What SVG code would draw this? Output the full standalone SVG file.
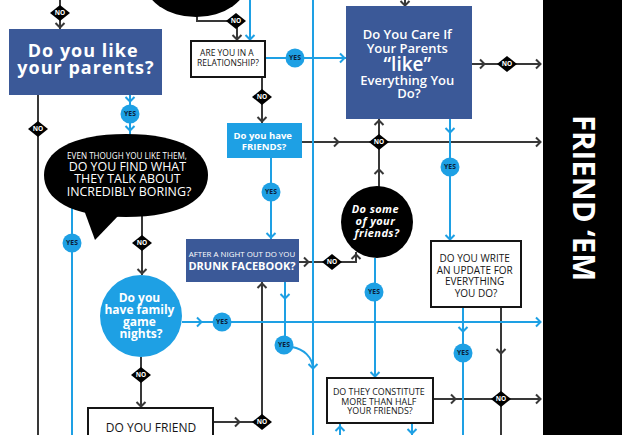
<svg xmlns="http://www.w3.org/2000/svg" width="622" height="435" viewBox="0 0 622 435">
<style>
.g{fill:none;stroke:#383838;stroke-width:2}
.b{fill:none;stroke:#1ea0e4;stroke-width:2}
.no polygon{fill:#000}
.no text{font-family:"Open Sans","DejaVu Sans",sans-serif;font-weight:700;font-size:6.5px;fill:#fff;text-anchor:middle}
.yes circle{fill:#1ea0e4}
.yes text{font-family:"Open Sans","DejaVu Sans",sans-serif;font-weight:700;font-size:6.8px;fill:#0b1f3a;text-anchor:middle}
.t{font-family:"Open Sans","DejaVu Sans",sans-serif;text-anchor:middle}
.w{fill:#fff}
.k{fill:#151515}
.fb{fill:#3b5998}
.lb{fill:#1ea0e4}
.box{fill:#fff;stroke:#151515;stroke-width:2}
</style>
<defs>
<path id="cr" d="M-4,-4.5 L0.5,0 L-4,4.5"/>
<path id="cd" d="M-4.5,-4 L0,0.5 L4.5,-4"/>
<path id="cu" d="M-4.5,4 L0,-0.5 L4.5,4"/>
</defs>
<rect width="622" height="435" fill="#fff"/>

<g id="connectors">
<!-- gray connectors -->
<path class="g" d="M60,0V29"/>
<use href="#cd" class="g" x="60" y="27"/>
<path class="g" d="M38,95V435"/>
<path class="g" d="M197,10V21H237V41"/>
<use href="#cd" class="g" x="237" y="39"/>
<path class="g" d="M262,77V123"/>
<use href="#cd" class="g" x="262" y="121"/>
<path class="g" d="M302,142H540"/>
<use href="#cr" class="g" x="338" y="142"/>
<use href="#cr" class="g" x="540" y="142"/>
<path class="g" d="M379,188V119"/>
<use href="#cu" class="g" x="379" y="170"/>
<use href="#cu" class="g" x="379" y="121"/>
<path class="g" d="M405,0V6"/>
<use href="#cd" class="g" x="405" y="5"/>
<path class="g" d="M472,64H540"/>
<use href="#cr" class="g" x="484" y="64"/>
<use href="#cr" class="g" x="540" y="64"/>
<path class="g" d="M142,215V275"/>
<use href="#cd" class="g" x="142" y="273"/>
<path class="g" d="M141,357V408"/>
<use href="#cd" class="g" x="141" y="406"/>
<path class="g" d="M213,422H262V282"/>
<use href="#cr" class="g" x="239" y="422"/>
<use href="#cu" class="g" x="262" y="284"/>
<path class="g" d="M299,262H356V252"/>
<use href="#cr" class="g" x="308" y="262"/>
<use href="#cu" class="g" x="356" y="255"/>
<path class="g" d="M501,307V435"/>
<use href="#cd" class="g" x="501" y="353"/>
<path class="g" d="M433,399H540"/>
<use href="#cr" class="g" x="455" y="399"/>
<use href="#cr" class="g" x="540" y="399"/>

<!-- blue connectors -->
<path class="b" d="M130,95V136"/>
<use href="#cd" class="b" x="130" y="101"/>
<use href="#cd" class="b" x="130" y="130"/>
<path class="b" d="M72,205V435"/>
<path class="b" d="M182,322H540"/>
<use href="#cr" class="b" x="201" y="322"/>
<use href="#cr" class="b" x="540" y="322"/>
<path class="b" d="M250,0V41"/>
<use href="#cd" class="b" x="250" y="39"/>
<path class="b" d="M265,58H346"/>
<use href="#cr" class="b" x="344" y="58"/>
<path class="b" d="M313,0V435"/>
<path class="b" d="M271,158V239"/>
<use href="#cd" class="b" x="271" y="237"/>
<path class="b" d="M285,282V345"/>
<use href="#cd" class="b" x="285" y="298"/>
<path class="b" d="M292,347C304,349 312,357 313,368"/>
<use href="#cd" class="b" x="313" y="368"/>
<path class="b" d="M450,119V241"/>
<use href="#cd" class="b" x="450" y="132"/>
<use href="#cd" class="b" x="450" y="239"/>
<path class="b" d="M375,258V378"/>
<use href="#cd" class="b" x="375" y="376"/>
<path class="b" d="M463,307V435"/>
<use href="#cd" class="b" x="463" y="331"/>
<path class="b" d="M340,423V435"/>
<use href="#cu" class="b" x="340" y="427"/>
<path class="b" d="M412,423V435"/>
<use href="#cd" class="b" x="412" y="433"/>

<!-- NO labels -->
<g class="no" transform="translate(60,13)"><polygon points="0,-8 10,0 0,8 -10,0"/><text y="2.3">NO</text></g>
<g class="no" transform="translate(38,129)"><polygon points="0,-8 10,0 0,8 -10,0"/><text y="2.3">NO</text></g>
<g class="no" transform="translate(236,21)"><polygon points="0,-8 10,0 0,8 -10,0"/><text y="2.3">NO</text></g>
<g class="no" transform="translate(262,97)"><polygon points="0,-8 10,0 0,8 -10,0"/><text y="2.3">NO</text></g>
<g class="no" transform="translate(379,142)"><polygon points="0,-8 10,0 0,8 -10,0"/><text y="2.3">NO</text></g>
<g class="no" transform="translate(507,64)"><polygon points="0,-8 10,0 0,8 -10,0"/><text y="2.3">NO</text></g>
<g class="no" transform="translate(142,243)"><polygon points="0,-8 10,0 0,8 -10,0"/><text y="2.3">NO</text></g>
<g class="no" transform="translate(141,375)"><polygon points="0,-8 10,0 0,8 -10,0"/><text y="2.3">NO</text></g>
<g class="no" transform="translate(262,422)"><polygon points="0,-8 10,0 0,8 -10,0"/><text y="2.3">NO</text></g>
<g class="no" transform="translate(332,262)"><polygon points="0,-8 10,0 0,8 -10,0"/><text y="2.3">NO</text></g>
<g class="no" transform="translate(501,399)"><polygon points="0,-8 10,0 0,8 -10,0"/><text y="2.3">NO</text></g>

<!-- YES labels -->
<g class="yes" transform="translate(130,114)"><circle r="9.5"/><text y="2.4">YES</text></g>
<g class="yes" transform="translate(72,243)"><circle r="9.5"/><text y="2.4">YES</text></g>
<g class="yes" transform="translate(222,322)"><circle r="9.5"/><text y="2.4">YES</text></g>
<g class="yes" transform="translate(295,58)"><circle r="9.5"/><text y="2.4">YES</text></g>
<g class="yes" transform="translate(271,192)"><circle r="9.5"/><text y="2.4">YES</text></g>
<g class="yes" transform="translate(284,345)"><circle r="9.5"/><text y="2.4">YES</text></g>
<g class="yes" transform="translate(450,167)"><circle r="9.5"/><text y="2.4">YES</text></g>
<g class="yes" transform="translate(374,292)"><circle r="9.5"/><text y="2.4">YES</text></g>
<g class="yes" transform="translate(463,353)"><circle r="9.5"/><text y="2.4">YES</text></g>
</g>

<g id="n-top-bubble">
<ellipse cx="196" cy="-20" rx="52" ry="37" fill="#000"/>
</g>

<g id="n-like-parents">
<rect x="9" y="29" width="153" height="66" class="fb"/>
<text class="t w" font-size="18" font-weight="700" letter-spacing="1">
<tspan x="86" y="57">Do you like</tspan>
<tspan x="86" y="74">your parents?</tspan>
</text>
</g>

<g id="n-boring">
<path d="M126,134C182,134 208,152 208,175C208,199 182,217 126,217C70,217 44,199 44,175C44,152 70,134 126,134Z" fill="#000"/>
<path d="M84,210L95,240L120,214Z" fill="#000"/>
<text class="t w" font-size="8.1"><tspan x="127" y="159">EVEN THOUGH YOU LIKE THEM,</tspan></text>
<text class="t w" font-size="12.4">
<tspan x="129" y="170.5">DO YOU FIND WHAT</tspan>
<tspan x="129" y="183">THEY TALK ABOUT</tspan>
<tspan x="129" y="195.5">INCREDIBLY BORING?</tspan>
</text>
</g>

<g id="n-relationship">
<rect x="191" y="41" width="74" height="36" class="box"/>
<text class="t k" font-size="8.5">
<tspan x="228" y="55.5">ARE YOU IN A</tspan>
<tspan x="228" y="65.5">RELATIONSHIP?</tspan>
</text>
</g>

<g id="n-friends">
<rect x="227" y="123" width="75" height="35" class="lb"/>
<text class="t w" font-size="9.5" font-weight="700">
<tspan x="264" y="139">Do you have</tspan>
<tspan x="264" y="149.5">FRIENDS?</tspan>
</text>
</g>

<g id="n-care">
<rect x="346" y="6" width="126" height="113" class="fb"/>
<text class="t w" font-size="13" font-weight="600">
<tspan x="409" y="39">Do You Care If</tspan>
<tspan x="409" y="53">Your Parents</tspan>
<tspan x="409" y="71" font-size="19">“like”</tspan>
<tspan x="409" y="85">Everything You</tspan>
<tspan x="409" y="98">Do?</tspan>
</text>
</g>

<g id="n-drunk">
<rect x="186" y="239" width="113" height="43" class="fb"/>
<text class="t w" font-size="7.9"><tspan x="242" y="257">AFTER A NIGHT OUT DO YOU</tspan></text>
<text class="t w" font-size="11" font-weight="700"><tspan x="242" y="269.5">DRUNK FACEBOOK?</tspan></text>
</g>

<g id="n-some-friends">
<circle cx="377" cy="222" r="36" fill="#000"/>
<text class="t w" font-size="11" font-weight="700" font-style="italic" letter-spacing="0.4">
<tspan x="377" y="213">Do some</tspan>
<tspan x="377" y="225">of your</tspan>
<tspan x="377" y="237">friends?</tspan>
</text>
</g>

<g id="n-family">
<circle cx="141" cy="316" r="41" class="lb"/>
<text class="t w" font-size="12" font-weight="700">
<tspan x="141" y="302">Do you</tspan>
<tspan x="141" y="314">have family</tspan>
<tspan x="141" y="326">game</tspan>
<tspan x="141" y="338">nights?</tspan>
</text>
</g>

<g id="n-write">
<rect x="431" y="241" width="90" height="66" class="box"/>
<text class="t k" font-size="10">
<tspan x="476" y="262">DO YOU WRITE</tspan>
<tspan x="476" y="273.5">AN UPDATE FOR</tspan>
<tspan x="476" y="285">EVERYTHING</tspan>
<tspan x="476" y="296.5">YOU DO?</tspan>
</text>
</g>

<g id="n-constitute">
<rect x="327" y="378" width="106" height="45" class="box"/>
<text class="t k" font-size="8.9">
<tspan x="380" y="395">DO THEY CONSTITUTE</tspan>
<tspan x="380" y="404.5">MORE THAN HALF</tspan>
<tspan x="380" y="414">YOUR FRIENDS?</tspan>
</text>
</g>

<g id="n-friend-them">
<rect x="88" y="408" width="125" height="40" class="box"/>
<text class="t k" font-size="12"><tspan x="151" y="431.5">DO YOU FRIEND</tspan></text>
</g>

<g id="n-friend-em">
<rect x="543" y="0" width="79" height="435" fill="#000"/>
<text class="t w" font-size="29.5" font-weight="700" transform="translate(583,198) rotate(90)" x="0" y="10.4">FRIEND ‘EM</text>
</g>
</svg>
